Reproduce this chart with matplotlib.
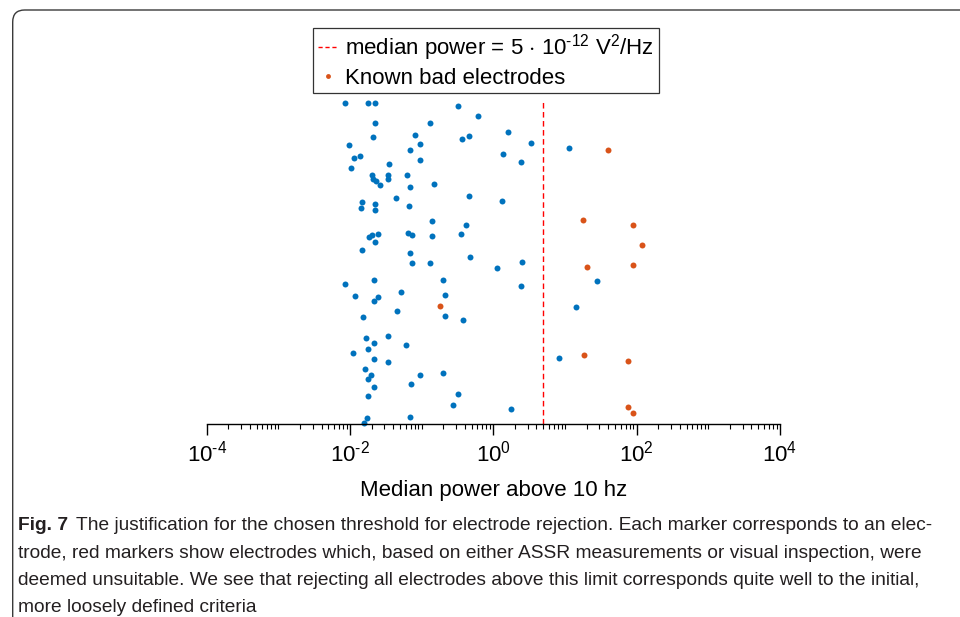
import matplotlib
matplotlib.use("Agg")
import matplotlib.pyplot as plt
from matplotlib.lines import Line2D
from matplotlib.patches import FancyBboxPatch
from matplotlib.transforms import IdentityTransform
from matplotlib.ticker import LogLocator, NullFormatter, FixedLocator

# ---------------- data ----------------
good_power = [0.0086, 0.018, 0.022, 0.32, 0.0223, 0.132, 0.62, 0.0816, 0.021, 0.366,
              0.454, 1.62, 3.36, 0.0097, 0.095, 0.0688, 1.38, 0.0114, 0.0138, 2.46,
              0.0102, 0.095, 0.0347, 0.0203, 0.0343, 0.063, 0.0208, 0.0229, 0.026, 0.0343,
              0.0688, 0.150, 0.454, 0.0439, 0.0149, 0.0226, 0.0144, 0.022, 0.066, 1.34,
              0.14, 0.42, 0.351, 0.0246, 0.0183, 0.0201, 0.0226, 0.064, 0.0727, 0.141,
              0.0149, 0.0688, 0.478, 0.0727, 0.132, 2.54, 1.14, 0.0086, 0.0215, 0.2005,
              2.44, 0.0118, 0.051, 0.21, 0.0213, 0.0246, 0.0453, 0.21, 0.0153, 0.381,
              0.0169, 0.0215, 0.0336, 0.060, 0.0179, 0.011, 0.0213, 0.0343, 0.0161, 0.0199,
              0.0177, 0.095, 0.199, 0.0704, 0.0213, 0.0179, 0.32, 0.277, 1.78, 0.0173,
              0.0689, 0.0157, 11.4, 28.2, 14.1, 8.13]
good_pos = [321, 321, 321, 318, 301, 301, 308, 289, 287, 285,
            288, 292, 281, 279, 280, 274, 270, 266, 268, 262,
            256, 264, 260, 249, 249, 249, 245, 243, 239, 245,
            237, 240, 228, 226, 222, 220, 216, 214, 218, 223,
            203, 199, 190, 190, 187, 189, 182, 191, 189, 188,
            174, 171, 167, 161, 161, 162, 156, 140, 144, 144,
            138, 128, 132, 129, 123, 127, 113, 108, 107, 104,
            86, 81, 88, 79, 75, 71, 65, 62, 55, 49,
            45, 49, 51, 40, 37, 28, 30, 19, 15, 6,
            7, 1, 276, 143, 117, 66]

bad_power = [40.2, 17.7, 88.1, 119, 20.3, 88.1, 0.18, 18.2, 75, 75, 88.1]
bad_pos = [274, 204, 199, 179, 157, 159, 118, 69, 63, 17, 11]

median_threshold = 5
xlim = (1e-4, 1e4)
major_ticks = [1e-4, 1e-2, 1e0, 1e2, 1e4]
major_labels = [r'$10^{\text{-}4}$', r'$10^{\text{-}2}$', r'$10^{0}$', r'$10^{2}$', r'$10^{4}$']
xlabel = 'Median power above 10 hz'
legend_labels = [r'median power = 5 $\cdot$ 10$^{\text{-}12}$ V$^{2}$/Hz', 'Known bad electrodes']
caption_bold = 'Fig. 7'
caption_lines = [
    'The justification for the chosen threshold for electrode rejection. Each marker corresponds to an elec-',
    'trode, red markers show electrodes which, based on either ASSR measurements or visual inspection, were',
    'deemed unsuitable. We see that rejecting all electrodes above this limit corresponds quite well to the initial,',
    'more loosely defined criteria',
]

BLUE = '#0072BD'
ORANGE = '#D95319'

plt.rcParams['font.family'] = ['Liberation Sans', 'DejaVu Sans']
plt.rcParams['mathtext.fontset'] = 'custom'
plt.rcParams['mathtext.rm'] = 'Liberation Sans'
plt.rcParams['mathtext.it'] = 'Liberation Sans:italic'
plt.rcParams['mathtext.bf'] = 'Liberation Sans:bold'

W, H = 960, 617
fig = plt.figure(figsize=(W / 100, H / 100), dpi=100)
ax = fig.add_axes([206.7 / W, (H - 424) / H, (780 - 206.7) / W, (424 - 100) / H])

ax.plot(good_power, good_pos, 'o', color=BLUE, ms=4.3, mew=0, clip_on=False)
ax.plot(bad_power, bad_pos, 'o', color=ORANGE, ms=4.3, mew=0, clip_on=False)
ax.axvline(median_threshold, color='#FF0000', ls=(0, (4, 2.5)), lw=1)

ax.set_xscale('log')
ax.set_xlim(*xlim)
ax.set_ylim(0, 324)
ax.xaxis.set_major_locator(FixedLocator(major_ticks))
ax.set_xticklabels(major_labels)
ax.xaxis.set_minor_locator(LogLocator(base=10, subs=range(1, 10), numticks=100))
ax.xaxis.set_minor_formatter(NullFormatter())
ax.tick_params(axis='x', which='major', direction='out', length=8, width=1, labelsize=16, pad=4)
ax.tick_params(axis='x', which='minor', direction='out', length=3.6, width=0.8)
ax.set_yticks([])
for s in ['left', 'right', 'top']:
    ax.spines[s].set_visible(False)
ax.spines['bottom'].set_linewidth(1)
ax.set_xlabel(xlabel, fontsize=16, labelpad=10)
ax.patch.set_alpha(0)

handles = [Line2D([], [], color='#FF0000', ls=(0, (3, 2)), lw=1),
           Line2D([], [], marker='o', color=ORANGE, ls='none', ms=3.5, mew=0)]
leg = fig.legend(handles, legend_labels, loc='upper center',
                 bbox_to_anchor=(486 / W, 1 - 28 / H), fontsize=16, frameon=True,
                 fancybox=False, edgecolor='black', handlelength=0.9, handletextpad=0.35,
                 borderpad=0.2, labelspacing=0.2, borderaxespad=0)
leg.get_frame().set_linewidth(0.9)

# frame around figure panel
frame = FancyBboxPatch((12.7, -50), 1200, (H - 10) + 50,
                       boxstyle='round,pad=0,rounding_size=12',
                       transform=IdentityTransform(), fill=False,
                       edgecolor='#3a3a3a', lw=1.0)
fig.add_artist(frame)

# caption
cap_font = ['Liberation Sans', 'DejaVu Sans']
cap_size = 13.8
baselines = [530, 558, 585, 612]
fig.canvas.draw()
r = fig.canvas.get_renderer()
tb = fig.text(18 / W, 1 - baselines[0] / H, caption_bold, fontsize=cap_size,
              fontweight='bold', family=cap_font, va='baseline', color='#231f20')
bb = tb.get_window_extent(renderer=r)
fig.text((bb.x1 + 8) / W, 1 - baselines[0] / H, caption_lines[0], fontsize=cap_size,
         family=cap_font, va='baseline', color='#231f20')
for line, yb in zip(caption_lines[1:], baselines[1:]):
    fig.text(18 / W, 1 - yb / H, line, fontsize=cap_size, family=cap_font,
             va='baseline', color='#231f20')

fig.savefig('out.png', dpi=100)
